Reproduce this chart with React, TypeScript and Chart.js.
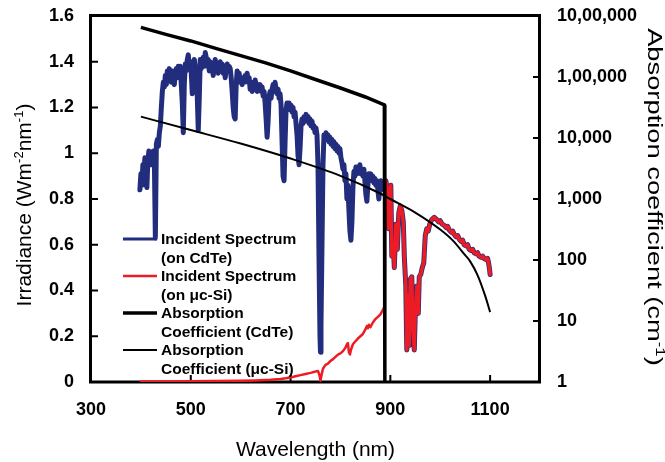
import React, { useEffect, useRef } from 'react';
import { Chart, registerables } from 'chart.js';

Chart.register(...registerables);

// ---------------- data ----------------
// Incident solar spectrum (nm, W m^-2 nm^-1)
const SPEC_WL = [
  398, 400, 402, 404, 406, 408, 410, 412, 414, 416, 418, 420, 422, 425, 427, 429, 431, 433, 435, 437,
  439, 441, 443, 445, 447, 449, 451, 453, 455, 457, 459, 461, 463, 465, 467, 469, 471, 473, 475, 477,
  479, 481, 483, 485, 487, 489, 491, 493, 495, 497, 499, 501, 503, 505, 507, 509, 511, 513, 515, 517,
  519, 521, 523, 525, 527, 529, 531, 533, 535, 537, 539, 541, 543, 545, 547, 549, 551, 553, 555, 557,
  559, 561, 563, 565, 567, 569, 571, 573, 575, 577, 579, 581, 583, 585, 587, 589, 591, 593, 595, 597,
  599, 601, 603, 605, 607, 609, 611, 613, 615, 617, 619, 621, 623, 625, 627, 629, 631, 633, 635, 637,
  639, 641, 643, 645, 647, 649, 651, 653, 655, 657, 659, 661, 663, 665, 667, 669, 671, 673, 675, 677,
  679, 681, 683, 685, 687, 689, 691, 693, 695, 697, 699, 701, 703, 705, 707, 709, 711, 713, 715, 717,
  719, 721, 723, 725, 727, 729, 731, 733, 735, 737, 739, 741, 743, 745, 747, 749, 751, 753, 755, 757,
  759, 760, 761, 763, 765, 767, 769, 771, 773, 775, 777, 779, 781, 783, 785, 787, 789, 791, 793, 795,
  797, 799, 801, 803, 805, 807, 809, 811, 813, 815, 817, 819, 821, 823, 825, 827, 829, 831, 833, 835,
  837, 839, 841, 843, 845, 847, 849, 851, 853, 855, 857, 859, 861, 863, 865, 867, 869, 871, 873, 875,
  877, 879, 881, 883, 885, 887, 889, 891, 894, 896, 898, 901, 903, 906, 908, 911, 914, 917, 920, 923,
  926, 928, 931, 933, 936, 938, 940, 943, 945, 948, 950, 953, 956, 958, 961, 964, 967, 970, 973, 976,
  979, 983, 988, 993, 997, 1000, 1004, 1008, 1012, 1015, 1018, 1022, 1025, 1028, 1032, 1035, 1038, 1042, 1045, 1048,
  1052, 1055, 1058, 1062, 1065, 1068, 1072, 1075, 1078, 1082, 1085, 1088, 1092, 1095, 1097, 1099, 1100,
];
const SPEC_IRR = [
  0.84, 0.91, 0.86, 0.95, 0.90, 0.98, 0.89, 0.85, 0.97, 1.01, 0.95, 1.00, 0.95, 1.01, 0.97, 0.63, 1.04, 1.06, 1.03, 1.09,
  1.12, 1.20, 1.27, 1.31, 1.29, 1.34, 1.30, 1.36, 1.33, 1.37, 1.34, 1.31, 1.36, 1.33, 1.30, 1.35, 1.37, 1.33, 1.38, 1.35,
  1.38, 1.30, 1.22, 1.09, 1.30, 1.39, 1.36, 1.41, 1.43, 1.38, 1.40, 1.35, 1.26, 1.37, 1.41, 1.38, 1.33, 1.25, 1.10, 1.24,
  1.41, 1.37, 1.40, 1.42, 1.38, 1.44, 1.42, 1.38, 1.41, 1.36, 1.40, 1.37, 1.39, 1.34, 1.38, 1.41, 1.37, 1.39, 1.35, 1.38,
  1.40, 1.36, 1.39, 1.35, 1.37, 1.33, 1.37, 1.39, 1.36, 1.38, 1.37, 1.33, 1.27, 1.20, 1.16, 1.15, 1.30, 1.36, 1.33, 1.35,
  1.31, 1.33, 1.30, 1.33, 1.31, 1.34, 1.32, 1.35, 1.31, 1.33, 1.28, 1.30, 1.27, 1.31, 1.28, 1.32, 1.30, 1.27, 1.30, 1.28,
  1.30, 1.27, 1.29, 1.25, 1.27, 1.22, 1.15, 1.07, 1.14, 1.25, 1.27, 1.24, 1.28, 1.30, 1.27, 1.31, 1.28, 1.26, 1.28, 1.24,
  1.26, 1.21, 1.05, 0.90, 0.88, 1.05, 1.19, 1.22, 1.20, 1.22, 1.19, 1.21, 1.18, 1.20, 1.16, 1.18, 1.13, 1.08, 0.99, 0.95,
  1.02, 1.12, 1.15, 1.13, 1.16, 1.14, 1.17, 1.15, 1.16, 1.13, 1.15, 1.12, 1.14, 1.11, 1.12, 1.09, 1.11, 1.08, 0.95, 0.55,
  0.20, 0.13, 0.25, 0.60, 0.95, 1.08, 1.06, 1.09, 1.06, 1.08, 1.05, 1.07, 1.04, 1.06, 1.03, 1.05, 1.02, 1.04, 1.01, 1.03,
  1.00, 1.02, 0.98, 0.96, 0.93, 0.95, 0.88, 0.91, 0.80, 0.86, 0.75, 0.66, 0.62, 0.70, 0.85, 0.92, 0.90, 0.94, 0.91, 0.94,
  0.92, 0.95, 0.91, 0.93, 0.90, 0.93, 0.88, 0.82, 0.79, 0.86, 0.91, 0.89, 0.91, 0.88, 0.90, 0.87, 0.89, 0.86, 0.88, 0.84,
  0.80, 0.86, 0.88, 0.85, 0.87, 0.84, 0.86, 0.88, 0.84, 0.67, 0.83, 0.86, 0.55, 0.60, 0.50, 0.69, 0.58, 0.74, 0.77, 0.75,
  0.70, 0.55, 0.42, 0.14, 0.38, 0.16, 0.45, 0.46, 0.25, 0.14, 0.30, 0.42, 0.30, 0.46, 0.47, 0.50, 0.52, 0.64, 0.67, 0.66,
  0.69, 0.71, 0.72, 0.71, 0.70, 0.705, 0.69, 0.685, 0.675, 0.68, 0.665, 0.655, 0.66, 0.645, 0.635, 0.64, 0.625, 0.615, 0.62, 0.60,
  0.595, 0.60, 0.58, 0.575, 0.58, 0.565, 0.56, 0.565, 0.55, 0.545, 0.55, 0.54, 0.535, 0.54, 0.52, 0.49, 0.47,
];

// Light reaching the μc-Si cell below the CdTe cut-off
const SI_LOW_WL = [
  400, 450, 500, 550, 600, 630, 660, 680, 690, 700, 710, 720, 730, 740, 750, 755, 758, 760, 762, 765,
  770, 775, 780, 785, 790, 795, 800, 805, 810, 813, 815, 817, 819, 821, 825, 830, 835, 840, 845, 850,
  853, 855, 857, 860, 865, 870, 875, 880, 885, 888,
];
const SI_LOW_IRR = [
  0.002, 0.002, 0.003, 0.004, 0.005, 0.007, 0.010, 0.013, 0.016, 0.020, 0.025, 0.030, 0.035, 0.040, 0.046, 0.048, 0.030, 0.005, 0.030, 0.058,
  0.075, 0.080, 0.092, 0.100, 0.110, 0.120, 0.125, 0.135, 0.150, 0.165, 0.170, 0.130, 0.120, 0.140, 0.165, 0.178, 0.190, 0.200, 0.210, 0.230,
  0.245, 0.235, 0.250, 0.240, 0.260, 0.275, 0.285, 0.295, 0.315, 0.330,
];
const SI_JOIN_WL = 889; // from here the μc-Si cell sees the full spectrum

// Absorption coefficients (cm^-1)
const CDTE_ABS_WL = [400, 450, 500, 550, 600, 650, 700, 750, 800, 850, 888, 889];
const CDTE_ABS = [650000, 500000, 390000, 295000, 224000, 170000, 126000, 91000, 66000, 47000, 35000, 1];
const SI_ABS_WL = [400, 500, 600, 700, 800, 880, 900, 950, 1000, 1025, 1050, 1060, 1075, 1090, 1100];
const SI_ABS = [22400, 13500, 8100, 4600, 2400, 1230, 1000, 600, 316, 210, 120, 95, 56, 26, 14];

// axes
const X_TICKS = [300, 500, 700, 900, 1100];
const X_TICK_LABELS = ['300', '500', '700', '900', '1100'];
const Y_TICKS = [0, 0.2, 0.4, 0.6, 0.8, 1, 1.2, 1.4, 1.6];
const Y_TICK_LABELS = ['0', '0.2', '0.4', '0.6', '0.8', '1', '1.2', '1.4', '1.6'];
const Y2_TICKS = [1, 10, 100, 1000, 10000, 100000, 1000000];
const Y2_TICK_LABELS = ['1', '10', '100', '1,000', '10,000', '1,00,000', '10,00,000'];

const SERIES_LABELS = [
  ['Incident Spectrum', '(on CdTe)'],
  ['Incident Spectrum', '(on μc-Si)'],
  ['Absorption', 'Coefficient (CdTe)'],
  ['Absorption', 'Coefficient (μc-Si)'],
];

const X_TITLE = [['Wavelength (nm)', false]];
const Y_TITLE = [['Irradiance (Wm', false], ['-2', true], ['nm', false], ['-1', true], [')', false]];
const Y2_TITLE = [['Absorption coefficient (cm', false], ['-1', true], [')', false]];

// ---------------- styling ----------------
const FONT = "'Liberation Sans', Arial, Helvetica, sans-serif";
const BLUE = '#232D7D';
const RED = '#ED1C24';
const BLACK = '#000000';
const SERIES_COLORS = [BLUE, RED, BLACK, BLACK];
const SERIES_WIDTHS = [5, 2.5, 3.5, 2];
const LEGEND_WIDTHS = [3, 2.5, 3.5, 2];

function drawRich(
  ctx: CanvasRenderingContext2D,
  parts: any[],
  cx: number,
  cy: number,
  rot: number,
  size: number,
  stretch = 1
) {
  ctx.save();
  ctx.translate(cx, cy);
  ctx.rotate(rot);
  ctx.scale(stretch, 1);
  const sup = size * 0.62;
  const widths = parts.map((p) => {
    ctx.font = `${p[1] ? sup : size}px ${FONT}`;
    return ctx.measureText(p[0]).width;
  });
  const total = widths.reduce((a, b) => a + b, 0);
  let x = -total / 2;
  ctx.fillStyle = '#000';
  ctx.textAlign = 'left';
  ctx.textBaseline = 'alphabetic';
  const base = size * 0.36;
  parts.forEach((p, i) => {
    ctx.font = `${p[1] ? sup : size}px ${FONT}`;
    ctx.fillText(p[0], x, p[1] ? base - size * 0.36 : base);
    x += widths[i];
  });
  ctx.restore();
}

const noPad = (s: any) => {
  s.paddingTop = 0;
  s.paddingBottom = 0;
  s.paddingLeft = 0;
  s.paddingRight = 0;
};

const decorPlugin = {
  id: 'decor',
  beforeDatasetsDraw(chart: any) {
    const { ctx, chartArea } = chart;
    const { left, right, top, bottom } = chartArea;
    const xs = chart.scales.x;
    const ys = chart.scales.y;
    const y2 = chart.scales.y2;
    ctx.save();
    ctx.strokeStyle = '#000';
    ctx.lineWidth = 2;
    ctx.beginPath();
    Y_TICKS.forEach((v) => {
      if (v <= Y_TICKS[0] || v >= Y_TICKS[Y_TICKS.length - 1]) return;
      const p = ys.getPixelForValue(v);
      ctx.moveTo(left, p);
      ctx.lineTo(left + 7, p);
    });
    X_TICKS.forEach((v) => {
      if (v <= X_TICKS[0]) return;
      const p = xs.getPixelForValue(v);
      ctx.moveTo(p, bottom);
      ctx.lineTo(p, bottom - 7);
    });
    Y2_TICKS.forEach((v) => {
      if (v <= Y2_TICKS[0] || v >= Y2_TICKS[Y2_TICKS.length - 1]) return;
      const p = y2.getPixelForValue(v);
      ctx.moveTo(right, p);
      ctx.lineTo(right - 7, p);
    });
    ctx.stroke();
    ctx.lineWidth = 3;
    ctx.strokeRect(left - 0.5, top - 0.5, right - left, bottom - top + 0.5);
    ctx.restore();
  },
  afterDatasetsDraw(chart: any) {
    const { ctx } = chart;
    ctx.save();
    const lx0 = 123, lx1 = 157, tx = 161;
    const rowStart = 239, itemStep = 37, lineStep = 18.5;
    ctx.font = `bold 15.5px ${FONT}`;
    ctx.textBaseline = 'middle';
    ctx.textAlign = 'left';
    SERIES_LABELS.forEach((lines, i) => {
      const y = rowStart + i * itemStep;
      ctx.strokeStyle = SERIES_COLORS[i];
      ctx.lineWidth = LEGEND_WIDTHS[i];
      ctx.beginPath();
      ctx.moveTo(lx0, y);
      ctx.lineTo(lx1, y);
      ctx.stroke();
      ctx.fillStyle = '#000';
      lines.forEach((t, j) => ctx.fillText(t, tx, y + j * lineStep + 1));
    });
    ctx.restore();
  },
  afterDraw(chart: any) {
    const { ctx, chartArea } = chart;
    const midY = (chartArea.top + chartArea.bottom) / 2;
    drawRich(ctx, X_TITLE, (chartArea.left + chartArea.right) / 2, 448, 0, 21);
    drawRich(ctx, Y_TITLE, 23, midY + 6, -Math.PI / 2, 21);
    drawRich(ctx, Y2_TITLE, 656, midY - 2, Math.PI / 2, 21, 1.3);
  },
};

export default function App() {
  const ref = useRef<HTMLCanvasElement | null>(null);

  useEffect(() => {
    document.body.style.margin = '0';
    const canvas = ref.current;
    if (!canvas) return;

    const spectrum = SPEC_WL.map((x, i) => ({ x, y: SPEC_IRR[i] }));
    const siIncident = SI_LOW_WL.map((x, i) => ({ x, y: SI_LOW_IRR[i] })).concat(
      spectrum.filter((p) => p.x >= SI_JOIN_WL)
    );
    const cdteAbs = CDTE_ABS_WL.map((x, i) => ({ x, y: CDTE_ABS[i] }));
    const siAbs = SI_ABS_WL.map((x, i) => ({ x, y: SI_ABS[i] }));

    const tickFont = { family: FONT, size: 18, weight: 'bold' as const };

    const chart = new Chart(canvas, {
      type: 'line',
      data: {
        datasets: [
          {
            label: SERIES_LABELS[0].join(' '),
            data: spectrum,
            yAxisID: 'y',
            borderColor: BLUE,
            borderWidth: SERIES_WIDTHS[0],
            pointRadius: 0,
            tension: 0,
            borderJoinStyle: 'round',
            borderCapStyle: 'round',
            order: 3,
          },
          {
            label: SERIES_LABELS[1].join(' '),
            data: siIncident,
            yAxisID: 'y',
            borderColor: RED,
            borderWidth: SERIES_WIDTHS[1],
            pointRadius: 0,
            tension: 0,
            borderJoinStyle: 'round',
            borderCapStyle: 'round',
            segment: {
              borderWidth: (c: any) => (c.p0.parsed.x >= SI_JOIN_WL ? 3.5 : SERIES_WIDTHS[1]),
            },
            order: 2,
          },
          {
            label: SERIES_LABELS[2].join(' '),
            data: cdteAbs,
            yAxisID: 'y2',
            borderColor: BLACK,
            borderWidth: SERIES_WIDTHS[2],
            pointRadius: 0,
            tension: 0,
            borderJoinStyle: 'miter',
            order: 0,
          },
          {
            label: SERIES_LABELS[3].join(' '),
            data: siAbs,
            yAxisID: 'y2',
            borderColor: BLACK,
            borderWidth: SERIES_WIDTHS[3],
            pointRadius: 0,
            cubicInterpolationMode: 'monotone',
            order: 1,
          },
        ],
      },
      options: {
        animation: false,
        responsive: false,
        devicePixelRatio: 1,
        layout: { padding: { top: 16, left: 0, right: 0, bottom: 0 } },
        plugins: { legend: { display: false }, tooltip: { enabled: false }, title: { display: false } },
        scales: {
          x: {
            type: 'linear',
            position: 'bottom',
            min: 300,
            max: 1200,
            grid: { display: false, drawTicks: false, tickLength: 0 },
            border: { display: false },
            afterBuildTicks: (s: any) => {
              s.ticks = X_TICKS.map((value) => ({ value }));
            },
            afterFit: (s: any) => {
              s.height = 80;
              noPad(s);
            },
            ticks: {
              autoSkip: false,
              maxRotation: 0,
              padding: 17,
              color: '#000',
              font: tickFont,
              callback: (v: any, i: number) => X_TICK_LABELS[i],
            },
          },
          y: {
            type: 'linear',
            position: 'left',
            min: 0,
            max: 1.6,
            grid: { display: false, drawTicks: false, tickLength: 0 },
            border: { display: false },
            afterBuildTicks: (s: any) => {
              s.ticks = Y_TICKS.map((value) => ({ value }));
            },
            afterFit: (s: any) => {
              s.width = 91;
              noPad(s);
            },
            ticks: {
              autoSkip: false,
              padding: 17,
              color: '#000',
              font: tickFont,
              callback: (v: any, i: number) => Y_TICK_LABELS[i],
            },
          },
          y2: {
            type: 'logarithmic',
            position: 'right',
            min: 1,
            max: 1000000,
            grid: { display: false, drawTicks: false, tickLength: 0 },
            border: { display: false },
            afterBuildTicks: (s: any) => {
              s.ticks = Y2_TICKS.map((value) => ({ value }));
            },
            afterFit: (s: any) => {
              s.width = 125;
              noPad(s);
            },
            ticks: {
              autoSkip: false,
              padding: 17,
              color: '#000',
              font: tickFont,
              callback: (v: any, i: number) => Y2_TICK_LABELS[i],
            },
          },
        },
      } as any,
      plugins: [decorPlugin],
    });

    return () => chart.destroy();
  }, []);

  return (
    <div style={{ position: 'absolute', left: 0, top: 0, width: 665, height: 462, background: '#fff' }}>
      <canvas ref={ref} width={665} height={462} style={{ width: 665, height: 462 }} />
    </div>
  );
}
